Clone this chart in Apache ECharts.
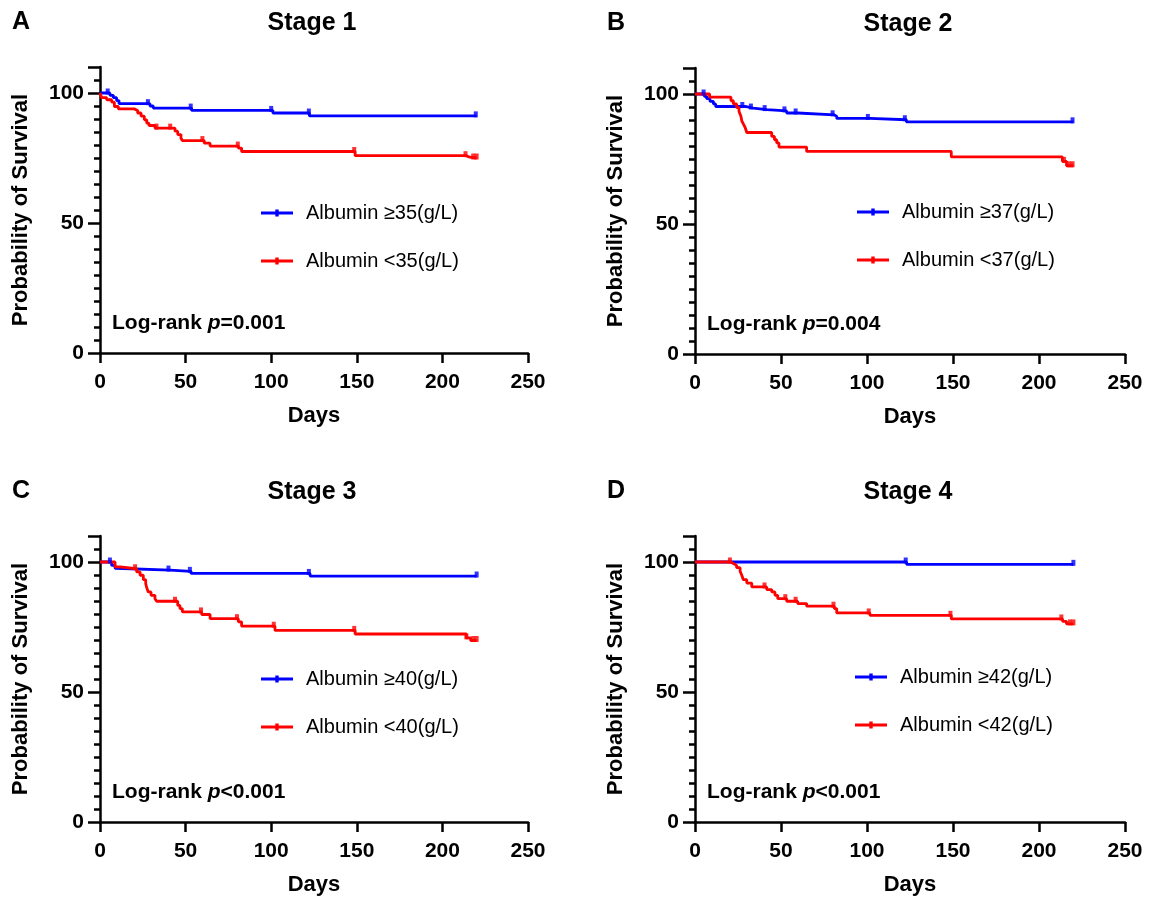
<!DOCTYPE html>
<html>
<head>
<meta charset="utf-8">
<script src="https://cdn.jsdelivr.net/npm/echarts@6/dist/echarts.min.js"></script>
<style>
html,body{margin:0;padding:0;background:#fff;}
#main{width:1157px;height:898px;}
</style>
</head>
<body>
<div id="main"></div>
<script>
// Stage 1
var timeA_hi = [0, 5.8, 7.8, 9.7, 11.1, 29.2, 31.1, 53.5, 101, 122.3, 220];
var survA_hi = [100, 99.1, 98.2, 97.1, 95.9, 95, 94.2, 93.3, 92.3, 91.2, 91.2];
var censA_hi = [4.5, 28, 53, 100, 122, 219.5];
var timeA_lo = [0, 1, 3.9, 6.8, 8.4, 10.7, 20, 22, 24, 25.9, 27.3, 28.6, 32.1, 43.8, 45.4, 47.3, 48.1, 60.9, 64.3, 80.8, 82.7, 149, 213.8, 216, 220];
var survA_lo = [100, 98.2, 97.4, 96.5, 94.8, 93.9, 93.3, 92.3, 91.1, 89.7, 88.4, 87.5, 86.5, 85.3, 84, 82.6, 81.7, 80.7, 79.6, 78.8, 77.5, 75.9, 75.3, 75, 75];
var censA_lo = [33, 41, 59.8, 80.5, 148.5, 213.5, 218, 220];
// Stage 2
var timeB_hi = [0, 5.4, 6.8, 8.7, 10.7, 12, 29.1, 33.9, 41.7, 53.3, 59.7, 81, 82.4, 101.7, 122.9, 220];
var survB_hi = [100, 99.1, 98.2, 97.2, 96.2, 95.2, 94.6, 94, 93.5, 92.7, 92, 91.4, 90.6, 90.1, 89.3, 89.3];
var censB_hi = [5, 27.5, 32.5, 40.5, 52, 58.5, 80, 100.5, 122, 219.5];
var timeB_lo = [0, 8.5, 20.9, 22.3, 24.2, 25.6, 26.7, 27.2, 28.1, 29.1, 30.1, 44.6, 46.2, 47.5, 48.8, 64.9, 149, 213.6, 216, 220];
var survB_lo = [100, 98.8, 97.4, 96.2, 94.8, 93.3, 91.4, 89.7, 88.5, 87.2, 85.2, 83.7, 82.4, 81.2, 79.6, 77.9, 75.8, 74.1, 72.4, 72.4];
var censB_lo = [214.5, 217.5, 219.5];
// Stage 3
var timeC_hi = [0, 6.8, 8.8, 9.7, 40.9, 53.2, 122.7, 220];
var survC_hi = [100, 98.7, 97.6, 96.9, 96.4, 95.6, 94.6, 94.6];
var censC_hi = [5.8, 40, 52.5, 122, 220];
var timeC_lo = [0, 8.8, 11.7, 21.4, 23.4, 25.3, 26.7, 27.3, 28.2, 29.8, 32.1, 33.1, 45.4, 46.7, 48.1, 59.4, 64.3, 80.8, 82.7, 102.2, 149, 214, 216.5, 220];
var survC_lo = [100, 98.1, 97.4, 96.2, 94.9, 93.2, 91.7, 90.1, 88.5, 87.2, 85.9, 84.9, 83.3, 82.1, 80.8, 79.8, 78.2, 77, 75.3, 73.7, 72.3, 70.8, 69.8, 69.8];
var censC_lo = [20.5, 43.8, 59, 80, 101.5, 148.5, 214, 218, 220];
// Stage 4
var timeD_hi = [0, 123, 220];
var survD_hi = [100, 99.1, 99.1];
var censD_hi = [122.5, 220];
var timeD_lo = [0, 20.9, 22.3, 24.2, 26.2, 27.2, 28.1, 30.1, 33, 41.7, 44.6, 46.5, 48.1, 53.3, 59.7, 64.9, 81, 82.4, 101.7, 149, 213.7, 216, 220];
var survD_lo = [100, 99.4, 98.7, 97.8, 96.5, 94.9, 93.2, 91.9, 90.4, 89.4, 88.5, 87.2, 85.9, 84.9, 84, 83, 82.1, 80.4, 79.5, 78.1, 77.2, 76.2, 76.2];
var censD_lo = [20.3, 40.4, 52.5, 58.5, 80.5, 101, 148.5, 213, 218, 220];

var stageNames = ['Stage 1', 'Stage 2', 'Stage 3', 'Stage 4'];
var panelLetters = ['A', 'B', 'C', 'D'];
var cutoffs = ['35', '37', '40', '42'];
var pTexts = ['=0.001', '=0.004', '<0.001', '<0.001'];
var xTicks = [0, 50, 100, 150, 200, 250];
var yTicks = [0, 50, 100];

var curves = [
	[timeA_hi, survA_hi, censA_hi, timeA_lo, survA_lo, censA_lo],
	[timeB_hi, survB_hi, censB_hi, timeB_lo, survB_lo, censB_lo],
	[timeC_hi, survC_hi, censC_hi, timeC_lo, survC_lo, censC_lo],
	[timeD_hi, survD_hi, censD_hi, timeD_lo, survD_lo, censD_lo]
];

var grids = [
	{left: 100, top: 67, width: 428, height: 286},
	{left: 695, top: 68, width: 430, height: 286},
	{left: 100, top: 536, width: 428, height: 286},
	{left: 695, top: 536, width: 430, height: 286}
];
var legendPos = [[256, 198], [852, 197], [256, 664], [850, 662]];

var FONT = '"Liberation Sans", Arial, sans-serif';
var BLUE = '#0000ff';
var RED = '#ff0000';

function pairs(t, s){
	var out = [];
	for(var i=0;i<t.length;i++){
		out.push([t[i], s[i]]);
	}
	return out;
}
function censorPts(t, s, c){
	var out = [];
	for(var k=0;k<c.length;k++){
		var v = s[0];
		for(var i=0;i<t.length;i++){
			if(t[i] <= c[k]) v = s[i];
		}
		out.push([c[k], v]);
	}
	return out;
}

var xAxes = [], yAxes = [], series = [], legends = [], graphics = [];
var legendIcon = 'path://M0,4h32v2.8h-32z M14.3,1.8h3.4v7.2h-3.4z';

for(var p=0;p<4;p++){
	xAxes.push({
		gridIndex: p, type: 'value', min: 0, max: 250, interval: 50,
		name: 'Days', nameLocation: 'middle', nameGap: 52,
		nameTextStyle: {fontFamily: FONT, fontSize: 22, fontWeight: 'bold', color: '#000'},
		axisLine: {show: true, lineStyle: {color: '#000', width: 2.5}},
		axisTick: {show: true, length: 10, lineStyle: {color: '#000', width: 2.5}},
		axisLabel: {fontFamily: FONT, fontSize: 21, fontWeight: 'bold', color: '#000', margin: 19,
			formatter: function(v){ return xTicks.indexOf(v) >= 0 ? String(v) : ''; }},
		splitLine: {show: false}
	});
	yAxes.push({
		gridIndex: p, type: 'value', min: 0, max: 110, interval: 50,
		name: 'Probability of Survival', nameLocation: 'middle', nameGap: 68,
		nameTextStyle: {fontFamily: FONT, fontSize: 22, fontWeight: 'bold', color: '#000'},
		axisLine: {show: true, lineStyle: {color: '#000', width: 2.5}},
		axisTick: {show: true, length: 12, lineStyle: {color: '#000', width: 2.5}},
		minorTick: {show: true, splitNumber: 10, length: 6, lineStyle: {color: '#000', width: 2.5}},
		axisLabel: {fontFamily: FONT, fontSize: 21, fontWeight: 'bold', color: '#000', margin: 16, showMaxLabel: false,
			formatter: function(v){ return yTicks.indexOf(v) >= 0 ? String(v) : ''; }},
		splitLine: {show: false}
	});
	var c = curves[p];
	var nameHi = 'Albumin \u2265' + cutoffs[p] + '(g/L)';
	var nameLo = 'Albumin <' + cutoffs[p] + '(g/L)';
	series.push({
		name: nameHi, type: 'line', step: 'end', xAxisIndex: p, yAxisIndex: p,
		data: pairs(c[0], c[1]), symbol: 'none', silent: true, z: 3,
		itemStyle: {color: BLUE}, lineStyle: {color: BLUE, width: 2.8}
	});
	series.push({
		name: nameLo, type: 'line', step: 'end', xAxisIndex: p, yAxisIndex: p,
		data: pairs(c[3], c[4]), symbol: 'none', silent: true, z: 4,
		itemStyle: {color: RED}, lineStyle: {color: RED, width: 2.8}
	});
	series.push({
		type: 'scatter', xAxisIndex: p, yAxisIndex: p, data: censorPts(c[0], c[1], c[2]),
		symbol: 'rect', symbolSize: [4, 6], symbolOffset: [0, -1.5], silent: true, z: 5,
		itemStyle: {color: BLUE}
	});
	series.push({
		type: 'scatter', xAxisIndex: p, yAxisIndex: p, data: censorPts(c[3], c[4], c[5]),
		symbol: 'rect', symbolSize: [4, 6], symbolOffset: [0, -1.5], silent: true, z: 6,
		itemStyle: {color: RED}
	});
	legends.push({
		left: legendPos[p][0], top: legendPos[p][1], orient: 'vertical', itemGap: 28,
		itemWidth: 32, itemHeight: 9, icon: legendIcon, selectedMode: false,
		textStyle: {fontFamily: FONT, fontSize: 20, color: '#000', padding: [0, 0, 0, 8]},
		data: [nameHi, nameLo]
	});
	var g = grids[p];
	graphics.push({
		type: 'text', left: g.left - 88, top: g.top - 57,
		style: {text: panelLetters[p], font: 'bold 25px ' + FONT, fill: '#000'}
	});
	graphics.push({
		type: 'text', x: g.left + g.width / 2 - 2, y: g.top - 44,
		style: {text: stageNames[p], font: 'bold 25px ' + FONT, fill: '#000', textAlign: 'center', textVerticalAlign: 'middle'}
	});
	graphics.push({
		type: 'text', x: g.left + 12, y: g.top + 256,
		style: {
			text: '{b|Log-rank }{i|p}{b|' + pTexts[p] + '}',
			textVerticalAlign: 'middle',
			rich: {
				b: {font: 'bold 21px ' + FONT, fill: '#000'},
				i: {font: 'italic bold 21px ' + FONT, fill: '#000'}
			}
		}
	});
}

var myChart = echarts.init(document.getElementById('main'), null, {renderer: 'canvas'});
var option = {
	backgroundColor: '#fff',
	animation: false,
	grid: grids,
	xAxis: xAxes,
	yAxis: yAxes,
	legend: legends,
	series: series,
	graphic: graphics
};
myChart.setOption(option);
</script>
</body>
</html>
